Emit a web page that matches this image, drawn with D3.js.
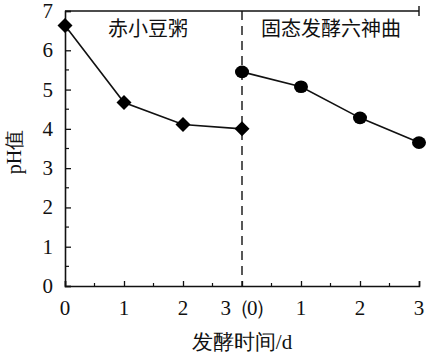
<!DOCTYPE html>
<html><head><meta charset="utf-8">
<script src="https://cdn.jsdelivr.net/npm/d3@7"></script>
<style>body{margin:0;background:#fff;}svg{display:block;}</style>
</head><body>
<svg id="c" width="428" height="357"></svg>
<script>
const xTickLabels = ["0","1","2","3（0）","1","2","3"];
const xTickPos = [0,1,2,3,4,5,6];
const yTicks = [0,1,2,3,4,5,6,7];
const seriesA_name = "赤小豆粥";
const seriesA_x = [0,1,2,3];
const seriesA_y = [6.63,4.67,4.11,4.0];
const seriesB_name = "固态发酵六神曲";
const seriesB_x = [3,4,5,6];
const seriesB_y = [5.45,5.07,4.28,3.65];
const xTitle = "发酵时间/d";
const yTitle = "pH值";

const svg = d3.select("#c");
const L=65, R=419, T=11, B=286;
const x = d3.scaleLinear().domain([0,6]).range([L,R]);
const y = d3.scaleLinear().domain([0,7]).range([B,T]);
const serif = "'Liberation Serif','DejaVu Serif',serif";
const cjk = "'Noto Sans CJK SC',sans-serif";
const col = "#111";

// top line
svg.append("line").attr("x1",L).attr("x2",R).attr("y1",T).attr("y2",T).attr("stroke",col).attr("stroke-width",1.6);
[R].forEach(v=>svg.append("line").attr("x1",v).attr("x2",v).attr("y1",T-5).attr("y2",T+5).attr("stroke",col).attr("stroke-width",1.4));
// dashed divider
svg.append("line").attr("x1",x(3)).attr("x2",x(3)).attr("y1",T).attr("y2",B)
  .attr("stroke",col).attr("stroke-width",1.4).attr("stroke-dasharray","9,6");

// axes
const xAxis = d3.axisBottom(x).tickValues(xTickPos).tickSize(-5).tickFormat("");
const gx = svg.append("g").attr("transform",`translate(0,${B})`).call(xAxis);
const yAxis = d3.axisLeft(y).tickValues(yTicks).tickSize(-6).tickFormat("");
const gy = svg.append("g").attr("transform",`translate(${L},0)`).call(yAxis);
[gx,gy].forEach(g=>{g.selectAll("path").attr("stroke",col).attr("stroke-width",1.6);g.selectAll("line").attr("stroke",col).attr("stroke-width",1.3);});
// minor ticks
const xMinor = d3.range(0.5,6,1);
svg.append("g").selectAll("line").data(xMinor).join("line")
  .attr("x1",d=>x(d)).attr("x2",d=>x(d)).attr("y1",B).attr("y2",B-3).attr("stroke",col).attr("stroke-width",1.2);
const yMinor = d3.range(0.5,7,1);
svg.append("g").selectAll("line").data(yMinor).join("line")
  .attr("x1",L).attr("x2",L+4).attr("y1",d=>y(d)).attr("y2",d=>y(d)).attr("stroke",col).attr("stroke-width",1.2);

// tick labels
svg.append("g").selectAll("text").data(yTicks).join("text")
  .attr("x",53).attr("y",d=>y(d)+7).attr("text-anchor","end")
  .attr("font-family",serif).attr("font-size",21).attr("fill",col).text(d=>d);
svg.append("g").selectAll("text").data(xTickPos).join("text")
  .attr("x",(d,i)=>x(d)+(i===3?5:0)).attr("y",B+29).attr("text-anchor","middle")
  .attr("letter-spacing",(d,i)=>i===3?"-2.5":null)
  .attr("font-family",serif).attr("font-size",21).attr("fill",col).text((d,i)=>xTickLabels[i]);

// titles
svg.append("text").attr("x",x(3)).attr("y",349).attr("text-anchor","middle")
  .attr("font-family",serif).attr("font-size",21).attr("fill",col).text(xTitle);
svg.append("text").attr("transform","translate(21,152) rotate(-90)").attr("text-anchor","middle")
  .attr("font-family",serif).attr("font-size",20).attr("fill",col).text(yTitle);
svg.append("text").attr("x",148).attr("y",36).attr("text-anchor","middle")
  .attr("font-family",cjk).attr("font-size",20).attr("fill",col).text(seriesA_name);
svg.append("text").attr("x",331).attr("y",36).attr("text-anchor","middle")
  .attr("font-family",cjk).attr("font-size",20).attr("fill",col).text(seriesB_name);

// series lines
const line = d3.line().x(d=>x(d[0])).y(d=>y(d[1]));
const dA = seriesA_x.map((v,i)=>[v,seriesA_y[i]]);
const dB = seriesB_x.map((v,i)=>[v,seriesB_y[i]]);
svg.append("path").attr("d",line(dA)).attr("fill","none").attr("stroke",col).attr("stroke-width",1.6);
svg.append("path").attr("d",line(dB)).attr("fill","none").attr("stroke",col).attr("stroke-width",1.6);
// markers
svg.append("g").selectAll("path").data(dA).join("path")
  .attr("transform",d=>`translate(${x(d[0])},${y(d[1])})`)
  .attr("d","M0,-7.5L7.5,0L0,7.5L-7.5,0Z").attr("fill","#000");
svg.append("g").selectAll("ellipse").data(dB).join("ellipse")
  .attr("cx",d=>x(d[0])).attr("cy",d=>y(d[1])).attr("rx",7).attr("ry",6.3).attr("fill","#000");
</script>
</body></html>
